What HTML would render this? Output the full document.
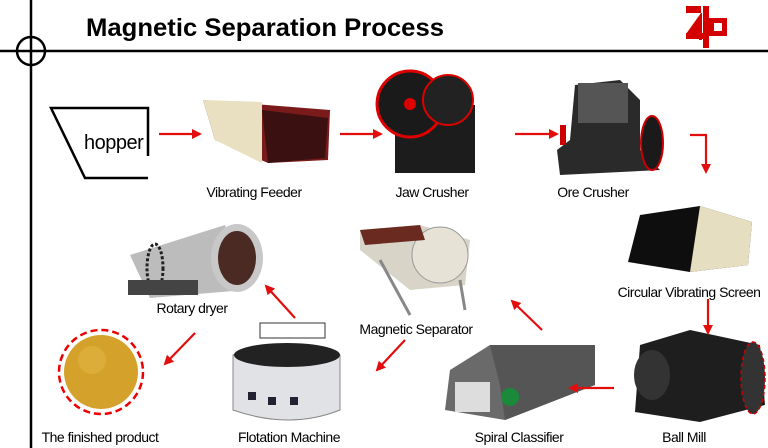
<!DOCTYPE html>
<html><head><meta charset="utf-8"><style>
html,body{margin:0;padding:0;background:#fff}
svg{display:block}
text{font-family:"Liberation Sans",sans-serif}
.l{font-size:14px;fill:#000;text-anchor:middle;letter-spacing:-0.5px}
</style></head><body>
<svg width="768" height="448" viewBox="0 0 768 448">
<defs><marker id="a" markerWidth="10" markerHeight="10" refX="8" refY="5" orient="auto" markerUnits="userSpaceOnUse"><path d="M0,0 L10,5 L0,10 Z" fill="#e30d0d"/></marker></defs>
<!-- frame -->
<line x1="31" y1="0" x2="31" y2="448" stroke="#000" stroke-width="2.5"/>
<line x1="0" y1="51" x2="768" y2="51" stroke="#000" stroke-width="2.5"/>
<circle cx="31" cy="51" r="14" fill="none" stroke="#000" stroke-width="2.5"/>
<text x="86" y="36" font-size="25" font-weight="bold" textLength="358" lengthAdjust="spacingAndGlyphs">Magnetic Separation Process</text>
<!-- logo -->
<g fill="#d40000"><rect x="686" y="6" width="15" height="7"/><path d="M701,13 L686,34 L699,34 L699,40 L702,40 L702,13Z"/><rect x="686" y="33" width="17" height="6"/><rect x="703" y="6" width="6" height="42"/><path d="M709,18 L727,18 L727,36 L709,36 Z M714,23 L714,31 L722,31 L722,23Z" fill-rule="evenodd"/></g>
<!-- hopper -->
<polyline points="148,156 148,108 51,108 85,178 148,178" fill="none" stroke="#000" stroke-width="2.5"/>
<text x="84" y="149" font-size="20" letter-spacing="-0.5">hopper</text>
<!-- vibrating feeder -->
<polygon points="203,100 330,110 328,160 268,163 215,140" fill="#7a1a1a"/>
<polygon points="203,100 262,102 262,163 215,140" fill="#e8e0c0"/>
<polygon points="262,110 328,118 325,158 268,163" fill="#3a1010"/>
<!-- jaw crusher -->
<rect x="395" y="105" width="80" height="68" fill="#1c1c1c"/>
<circle cx="410" cy="104" r="33" fill="#1a1a1a" stroke="#d00" stroke-width="3"/>
<circle cx="410" cy="104" r="6" fill="#d00"/>
<circle cx="448" cy="100" r="25" fill="#222" stroke="#d00" stroke-width="2"/>
<!-- ore crusher -->
<polygon points="575,85 620,80 640,100 640,150 660,170 560,175 557,150 570,140" fill="#2a2a2a"/>
<rect x="578" y="83" width="50" height="40" fill="#555"/>
<ellipse cx="652" cy="143" rx="11" ry="27" fill="#1a1a1a" stroke="#c00" stroke-width="2"/>
<rect x="560" y="125" width="6" height="20" fill="#c00"/>
<!-- circular screen -->
<polygon points="640,215 700,206 752,222 748,265 690,272 628,262" fill="#0e0e0e"/>
<polygon points="700,206 752,222 748,265 690,272" fill="#e6dec0"/>
<!-- ball mill -->
<polygon points="640,345 690,330 760,345 765,405 700,422 635,412" fill="#1e1e1e"/>
<ellipse cx="753" cy="378" rx="12" ry="36" fill="#333" stroke="#c00" stroke-width="1.5" stroke-dasharray="4,3"/>
<ellipse cx="652" cy="375" rx="18" ry="25" fill="#333"/>
<!-- spiral classifier -->
<polygon points="450,370 490,345 595,345 595,385 505,420 445,410" fill="#6a6a6a"/>
<polygon points="490,345 595,345 595,385 505,420 500,385" fill="#555"/>
<rect x="455" y="382" width="35" height="30" fill="#ddd"/>
<circle cx="510" cy="397" r="9" fill="#1a8a3a"/>
<!-- flotation -->
<rect x="260" y="323" width="65" height="15" fill="none" stroke="#333"/>
<path d="M233,355 Q290,335 340,355 L340,410 Q290,430 233,410Z" fill="#e0e2e6" stroke="#888"/>
<ellipse cx="287" cy="355" rx="53" ry="12" fill="#222"/>
<rect x="248" y="392" width="8" height="8" fill="#223"/><rect x="268" y="397" width="8" height="8" fill="#223"/><rect x="290" y="397" width="8" height="8" fill="#223"/>
<!-- magnetic separator -->
<polygon points="360,230 420,225 470,240 465,285 410,290 360,250" fill="#d8d4c8"/>
<circle cx="440" cy="255" r="28" fill="#e6e2d6" stroke="#999"/>
<polygon points="360,230 420,225 425,240 365,245" fill="#6a2a20"/>
<line x1="380" y1="260" x2="410" y2="315" stroke="#888" stroke-width="3"/><line x1="460" y1="280" x2="465" y2="310" stroke="#888" stroke-width="3"/>
<!-- rotary dryer -->
<polygon points="130,255 225,225 245,290 150,298" fill="#bcbcbc"/>
<ellipse cx="237" cy="258" rx="26" ry="34" fill="#c8c8c8"/>
<ellipse cx="237" cy="258" rx="19" ry="27" fill="#4a2a22"/>
<ellipse cx="155" cy="268" rx="8" ry="24" fill="none" stroke="#222" stroke-width="3" stroke-dasharray="3,2"/>
<rect x="128" y="280" width="70" height="15" fill="#444"/>
<!-- finished product -->
<circle cx="101" cy="372" r="42" fill="none" stroke="#e00" stroke-width="2.5" stroke-dasharray="7,4"/>
<circle cx="101" cy="372" r="37" fill="#d4a22a"/>
<circle cx="92" cy="360" r="14" fill="#e0b440" opacity=".7"/>
<!-- arrows -->
<g stroke="#e30d0d" stroke-width="2.2" fill="none" marker-end="url(#a)">
<line x1="159" y1="134" x2="200" y2="134"/>
<line x1="340" y1="134" x2="381" y2="134"/>
<line x1="515" y1="134" x2="557" y2="134"/>
<polyline points="690,135 706,135 706,172"/>
<line x1="708" y1="299" x2="708" y2="333"/>
<line x1="614" y1="388" x2="570" y2="388"/>
<line x1="542" y1="330" x2="512" y2="301"/>
<line x1="405" y1="340" x2="377" y2="370"/>
<line x1="295" y1="318" x2="266" y2="286"/>
<line x1="195" y1="333" x2="165" y2="364"/>
</g>
<!-- labels -->
<text class="l" x="254" y="197">Vibrating Feeder</text>
<text class="l" x="432" y="197">Jaw Crusher</text>
<text class="l" x="593" y="197">Ore Crusher</text>
<text class="l" x="689" y="297">Circular Vibrating Screen</text>
<text class="l" x="192" y="313">Rotary dryer</text>
<text class="l" x="416" y="334">Magnetic Separator</text>
<text class="l" x="100" y="442">The finished product</text>
<text class="l" x="289" y="442">Flotation Machine</text>
<text class="l" x="519" y="442">Spiral Classifier</text>
<text class="l" x="684" y="442">Ball Mill</text>
</svg>
</body></html>
